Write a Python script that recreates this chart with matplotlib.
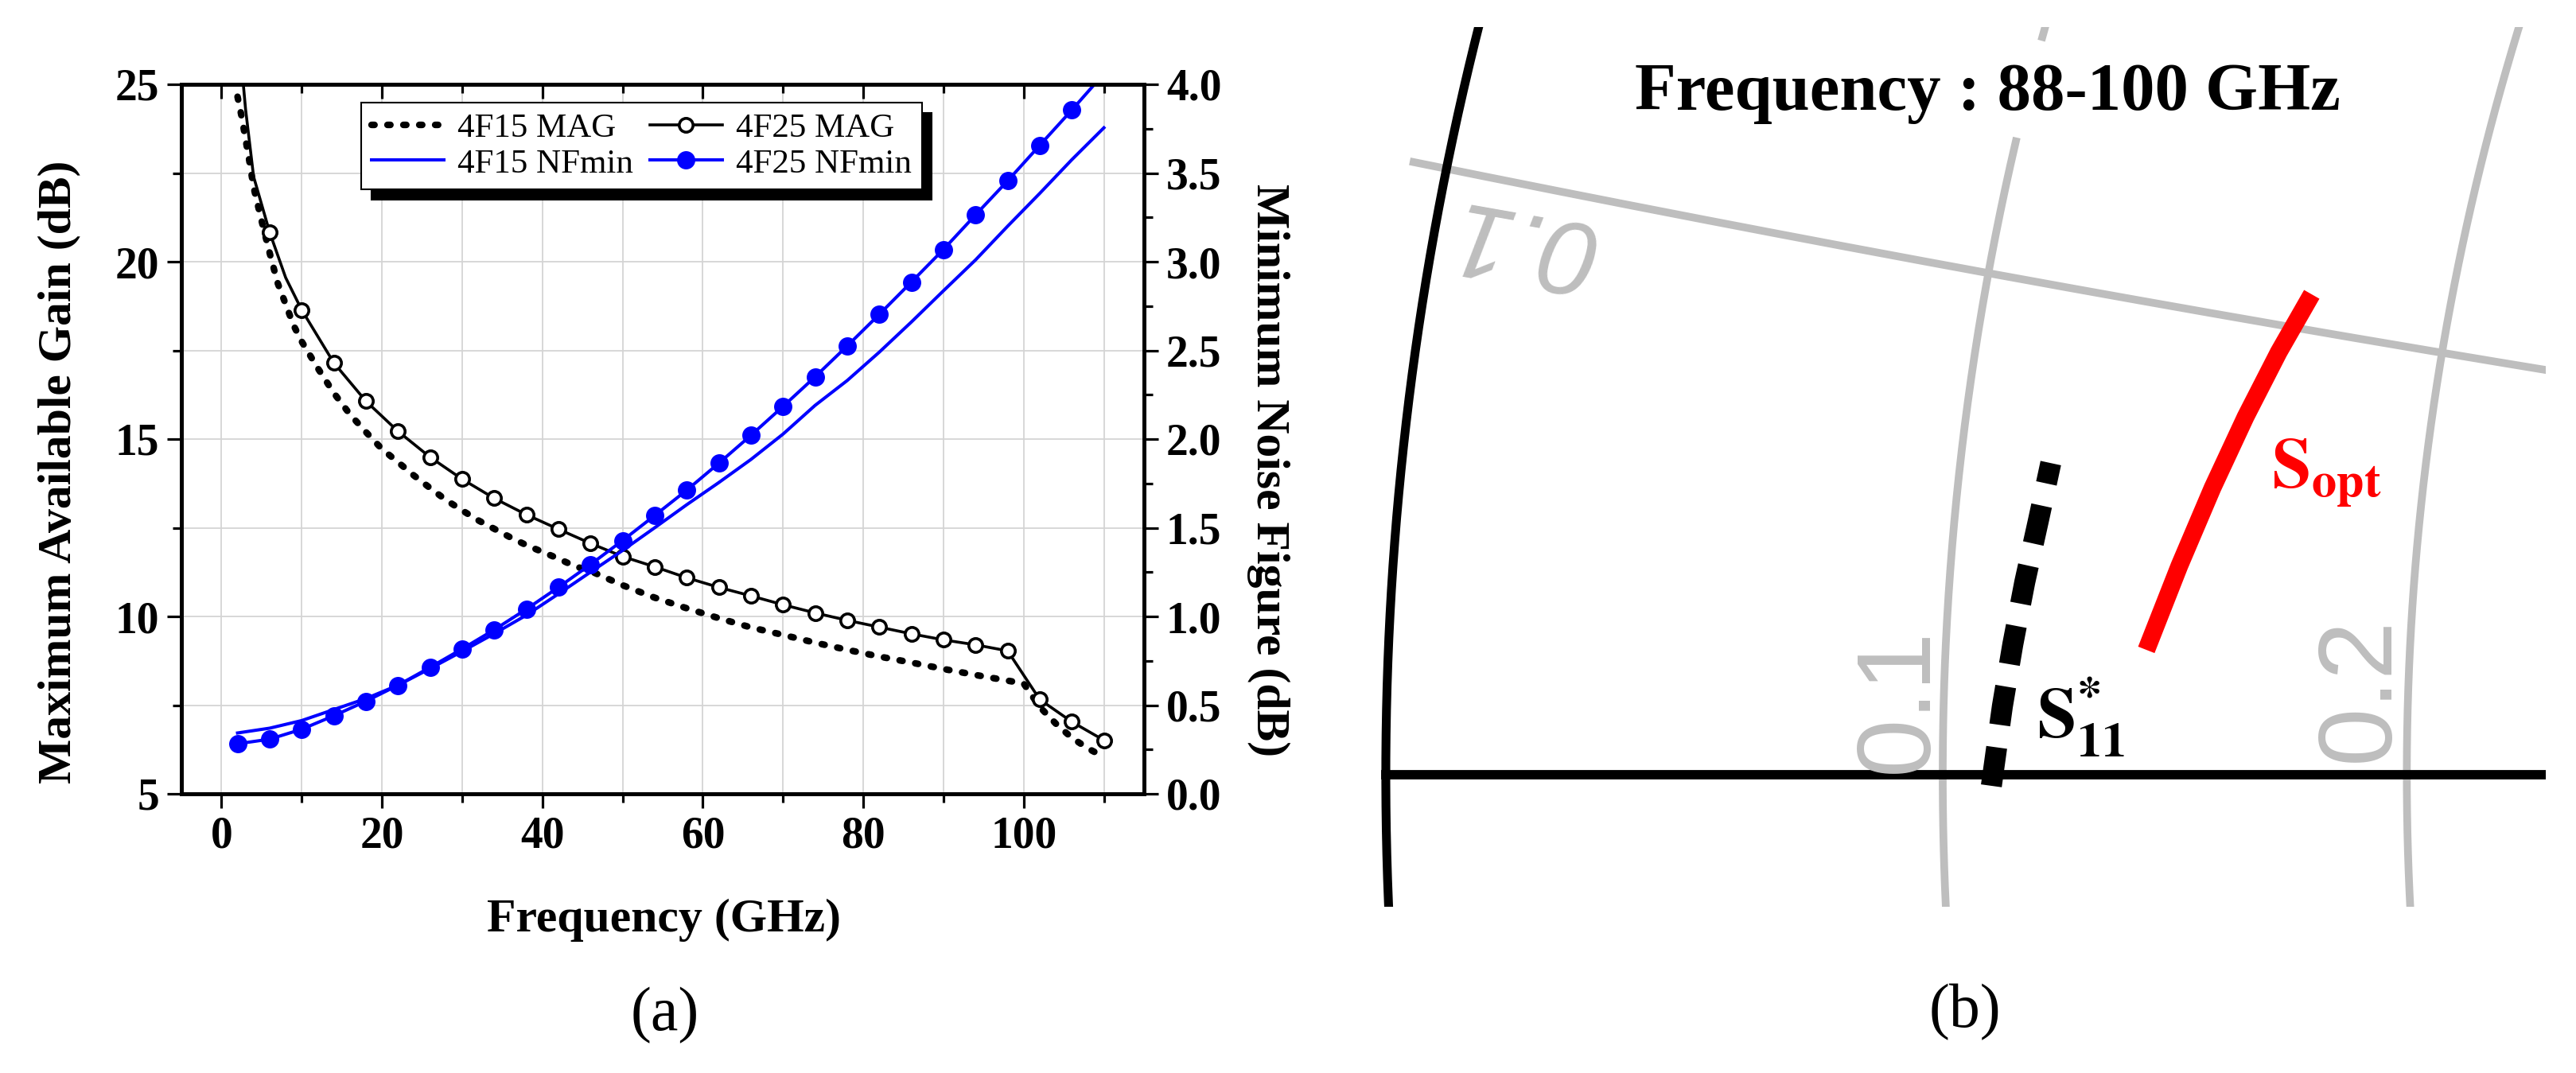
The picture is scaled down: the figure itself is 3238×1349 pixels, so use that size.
import numpy as np
import matplotlib
matplotlib.use('Agg')
import matplotlib.pyplot as plt
from matplotlib.ticker import MultipleLocator

plt.rcParams['font.family'] = ['Liberation Serif', 'DejaVu Serif']
plt.rcParams['font.weight'] = 'bold'
plt.rcParams['mathtext.fontset'] = 'stix'

# ---------------- (a) MAG / NFmin vs frequency ----------------
# marker frequencies (GHz)
freq = [2, 6, 10, 14, 18, 22, 26, 30, 34, 38, 42, 46, 50, 54,
        58, 62, 66, 70, 74, 78, 82, 86, 90, 94, 98, 102, 106, 110]

# 4F25 MAG (dB), a few extra points at low frequency for the curve
mag_4f25_freq = [2, 3, 4, 6, 8, 10, 14, 18, 22, 26, 30, 34, 38, 42, 46, 50,
                 54, 58, 62, 66, 70, 74, 78, 82, 86, 90, 94, 98, 102, 106, 110]
mag_4f25 = [26.8, 24.3, 22.4, 20.83, 19.55, 18.64, 17.15, 16.07, 15.22, 14.49,
            13.87, 13.33, 12.87, 12.46, 12.06, 11.69, 11.40, 11.09, 10.82,
            10.58, 10.33, 10.10, 9.89, 9.70, 9.51, 9.34, 9.20, 9.03, 7.66,
            7.03, 6.51]

# 4F15 MAG (dB)
mag_4f15_freq = [2, 2.5, 3, 3.5, 4, 5, 6, 7, 8, 9, 10, 12, 14, 16, 18, 20, 22,
                 24, 26, 28, 30, 32, 34, 36, 38, 40, 42, 44, 46, 50, 54, 58,
                 62, 66, 70, 74, 78, 82, 86, 90, 94, 98, 100, 102, 104, 106,
                 108, 110]
mag_4f15 = [24.65, 24.1, 23.45, 22.8, 22.1, 21.15, 20.25, 19.4, 18.8, 18.2,
            17.75, 17.0, 16.3, 15.7, 15.2, 14.72, 14.35, 13.97, 13.62, 13.28,
            12.99, 12.71, 12.47, 12.23, 12.01, 11.82, 11.63, 11.42, 11.28,
            10.88, 10.53, 10.23, 9.95, 9.69, 9.48, 9.26, 9.06, 8.87, 8.70,
            8.52, 8.35, 8.19, 8.11, 7.45, 6.98, 6.58, 6.28, 6.04]

# NFmin (dB) at the marker frequencies
nf_4f15 = [0.343, 0.37, 0.413, 0.475, 0.537, 0.612, 0.706, 0.803, 0.903, 1.007,
           1.127, 1.25, 1.372, 1.50, 1.63, 1.755, 1.885, 2.028, 2.19, 2.33,
           2.49, 2.66, 2.836, 3.01, 3.20, 3.385, 3.575, 3.755]
nf_4f25 = [0.282, 0.308, 0.364, 0.44, 0.522, 0.612, 0.713, 0.817, 0.925, 1.041,
           1.164, 1.293, 1.428, 1.569, 1.712, 1.864, 2.021, 2.184, 2.351, 2.525,
           2.703, 2.885, 3.069, 3.264, 3.456, 3.656, 3.855, 4.06]

# ---------------- (b) Smith chart detail, 88-100 GHz ----------------
r_circles = [0.1, 0.2]
x_arcs = [0.1]
s11_conj_re = [-0.8023, -0.7987, -0.7953, -0.7914, -0.7868, -0.7829]
s11_conj_im = [-0.0035, 0.0225, 0.0427, 0.0630, 0.0838, 0.1019]
sopt_re = [-0.7517, -0.7409, -0.7301, -0.7193, -0.7085, -0.6977]
sopt_im = [0.0409, 0.0684, 0.0938, 0.1170, 0.1381, 0.1570]

W, H = 3238, 1349
fig = plt.figure(figsize=(W / 100, H / 100), dpi=100)


def fx(px):
    return px / W


def fy(py):
    return 1 - py / H


ax = fig.add_axes([fx(228), fy(998), fx(1438) - fx(228), fy(106) - fy(998)])
ax2 = ax.twinx()

mark_idx = [i for i, f in enumerate(mag_4f25_freq) if f in freq]
h1, = ax.plot(mag_4f15_freq, mag_4f15, color='black', lw=6,
              linestyle=(0, (0.45, 1.95)), dash_capstyle='round',
              label='4F15 MAG')
h2, = ax.plot(mag_4f25_freq, mag_4f25, color='black', lw=2.6, marker='o',
              markevery=mark_idx, ms=12.5, mew=2.6, mfc='white', mec='black',
              label='4F25 MAG')
h3, = ax2.plot(freq, nf_4f15, color='#0000ff', lw=2.9, label='4F15 NFmin')
h4, = ax2.plot(freq, nf_4f25, color='#0000ff', lw=2.9, marker='o', ms=15.5,
               mew=1, mfc='#0000ff', mec='#0000ff', label='4F25 NFmin')

ax.set_xlim(-5, 115)
ax.set_ylim(5, 25)
ax2.set_ylim(0, 4)
ax.xaxis.set_major_locator(MultipleLocator(20))
ax.xaxis.set_minor_locator(MultipleLocator(10))
ax.yaxis.set_major_locator(MultipleLocator(5))
ax.yaxis.set_minor_locator(MultipleLocator(2.5))
ax2.yaxis.set_major_locator(MultipleLocator(0.5))
ax2.yaxis.set_minor_locator(MultipleLocator(0.25))

ax.grid(which='both', color='#d4d4d4', lw=1.3)
ax.set_axisbelow(True)

ax.tick_params(axis='x', which='both', direction='out', top=False,
               bottom=True, labelsize=40, pad=7)
ax.tick_params(axis='y', which='both', direction='out', left=True,
               right=False, labelsize=40, pad=7)
ax2.tick_params(axis='y', which='both', direction='out', right=True,
                labelsize=40, pad=7)
ax2.xaxis.set_visible(True)
ax2.tick_params(axis='x', which='both', direction='in', top=True,
                bottom=False, labeltop=False, labelbottom=False)
for a in (ax, ax2):
    a.tick_params(which='major', length=13, width=2.3)
    a.tick_params(which='minor', length=8, width=2.3)
    for s in a.spines.values():
        s.set_linewidth(3.6)

handles = [h1, h3, h2, h4]
leg = ax2.legend(handles, [h.get_label() for h in handles], ncol=2,
                 loc='upper left', bbox_to_anchor=(0.187, 0.974),
                 borderaxespad=0, fancybox=False, framealpha=1,
                 edgecolor='black',
                 prop={'family': 'Liberation Serif', 'weight': 'normal',
                       'size': 31},
                 shadow={'ox': 9, 'oy': -9, 'color': 'black', 'alpha': 1},
                 handlelength=2.1, handletextpad=0.4, columnspacing=0.5,
                 labelspacing=0.12, borderpad=0.3)
leg.get_frame().set_linewidth(1.5)

fig.text(fx(74), fy(593), 'Maximum Available Gain (dB)', rotation=90,
         ha='center', va='center', fontsize=43)
fig.text(fx(1594), fy(591), 'Minimum Noise Figure (dB)', rotation=270,
         ha='center', va='center', fontsize=43)
fig.text(fx(834), fy(1157), 'Frequency (GHz)', ha='center', va='center',
         fontsize=43)
fig.text(fx(836), fy(1277), '(a)', ha='center', va='center', fontsize=56,
         fontweight='normal')

# ---------------- (b) ----------------
axb = fig.add_axes([fx(1730), fy(1140), fx(3200) - fx(1730),
                    fy(34) - fy(1140)])
axb.set_xlim(-1.0031, -0.6213)
axb.set_ylim(-0.0430, 0.2443)
axb.axis('off')

grey = '#bebebe'
xs = np.linspace(-0.6, 0.6, 1500)
for r in r_circles:
    z = r + 1j * xs
    g = (z - 1) / (z + 1)
    gi = g.imag.copy()
    if r == 0.1:
        gi[(xs > 0.127) & (xs < 0.148)] = np.nan
    axb.plot(g.real, gi, color=grey, lw=7, zorder=1)
rs = np.linspace(-0.0055, 2.0, 1500)
for xv in x_arcs:
    z = rs + 1j * xv
    g = (z - 1) / (z + 1)
    axb.plot(g.real, g.imag, color=grey, lw=7, zorder=1)

th = np.linspace(0, 2 * np.pi, 4000)
axb.plot(np.cos(th), np.sin(th), color='black', lw=8, zorder=2)
axb.plot([-1, 1], [0, 0], color='black', lw=8.5, zorder=2)

axb.plot(s11_conj_re, s11_conj_im, color='black', lw=19,
         linestyle=(0, (1.85, 1.08)), dash_capstyle='butt',
         solid_capstyle='butt', zorder=3)
axb.plot(sopt_re, sopt_im, color='#ff0000', lw=16, solid_capstyle='butt',
         solid_joinstyle='round', zorder=3)

fig.text(fx(2498), fy(138), 'Frequency : 88-100 GHz', ha='center',
         va='baseline', fontsize=61)
fig.text(fx(2560), fy(927), r'$\mathbf{S}_{11}^{*}$', fontsize=64,
         ha='left', va='baseline', color='black')
fig.text(fx(2855), fy(613), r'$\mathbf{S}_{\mathbf{opt}}$', fontsize=64,
         ha='left', va='baseline', color='#ff0000')
fig.text(fx(1910), fy(302), '0.1', rotation=170, style='italic', color=grey,
         fontsize=95, family='Liberation Sans', fontweight='normal',
         ha='center', va='center')
fig.text(fx(2387), fy(880), '0.1', rotation=90, color=grey, fontsize=95,
         family='Liberation Sans', fontweight='normal', ha='center',
         va='center')
fig.text(fx(2967), fy(866), '0.2', rotation=90, color=grey, fontsize=95,
         family='Liberation Sans', fontweight='normal', ha='center',
         va='center')
fig.text(fx(2470), fy(1273), '(b)', ha='center', va='center', fontsize=56,
         fontweight='normal')

fig.savefig('out.png', dpi=100)
